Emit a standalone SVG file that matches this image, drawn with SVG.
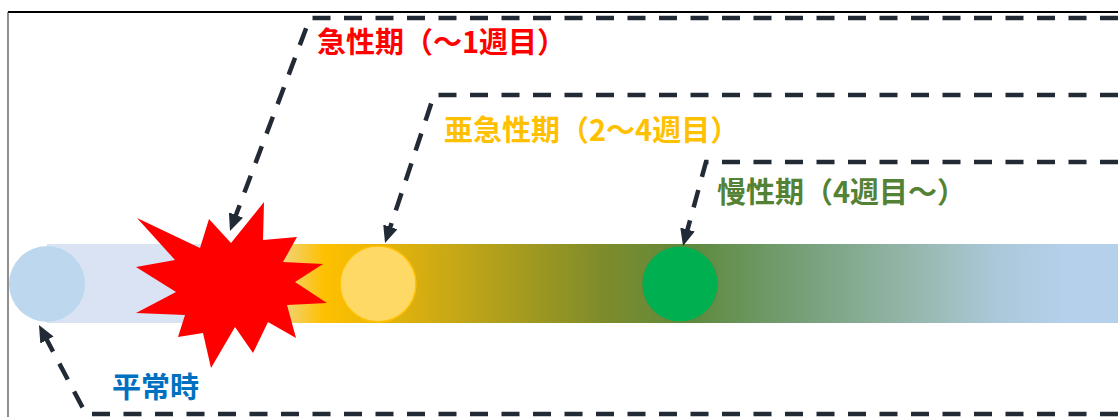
<svg xmlns="http://www.w3.org/2000/svg" width="1118" height="417" viewBox="0 0 1118 417">
<defs>
<style>
.lbl{font-family:"Noto Sans CJK JP","Noto Sans",sans-serif;font-weight:bold;font-size:29px}
.conn{fill:none;stroke:#222a35;stroke-width:4.5;stroke-dasharray:18 13.5}
</style>
<marker id="ah" markerUnits="userSpaceOnUse" markerWidth="17" markerHeight="15" viewBox="0 0 17 15" refX="5" refY="7.5" orient="auto">
<path d="M0,0 L17,7.5 L0,15 Z" fill="#222a35"/>
</marker>
<linearGradient id="bar" gradientUnits="userSpaceOnUse" x1="0" y1="0" x2="1118" y2="0">
<stop offset="0.22" stop-color="#dae3f3"/>
<stop offset="0.238" stop-color="#e9dcae"/>
<stop offset="0.29" stop-color="#ffc000"/>
<stop offset="0.39" stop-color="#cfab13"/>
<stop offset="0.54" stop-color="#7d8b2b"/>
<stop offset="0.62" stop-color="#5e8a3e"/>
<stop offset="0.72" stop-color="#77a07a"/>
<stop offset="0.81" stop-color="#93b5a8"/>
<stop offset="0.89" stop-color="#aac8d8"/>
<stop offset="0.95" stop-color="#b4d0ea"/>
</linearGradient>
</defs>
<rect width="1118" height="417" fill="#ffffff"/>
<g id="frame">
<line x1="8" y1="12" x2="1118" y2="12" stroke="#000" stroke-width="2"/>
<line x1="8" y1="12" x2="8" y2="417" stroke="#444" stroke-width="1.2"/>
</g>
<g id="timeline">
<rect x="47" y="244" width="1075" height="79" fill="url(#bar)"/>
</g>
<g id="normal">
<circle cx="47" cy="284" r="38" fill="#bdd7ee"/>
<text class="lbl" x="112" y="398" fill="#0070c0">平常時</text>
</g>
<g id="acute">
<polygon fill="#ff0000" points="137,218 200,248 209,219 231,243 264,202 263,240 297,237 283,262 323,264 295,282 327,303 287,305 296,338 268,322 253,353 235,327 211,368 203,333 178,337 185,315 136,313 176,292 136,267 175,260"/>
<text class="lbl" x="317" y="53" fill="#ff0000">急性期（〜1週目）</text>
</g>
<g id="subacute">
<circle cx="378" cy="284" r="38" fill="#ffd966" stroke="#ffc000" stroke-width="1.5"/>
<text class="lbl" x="444" y="141" fill="#ffc000">亜急性期（2〜4週目）</text>
</g>
<g id="chronic">
<circle cx="680" cy="284" r="38" fill="#00b050" stroke="#5e8a3e" stroke-width="1"/>
<text class="lbl" x="717" y="203" fill="#548235">慢性期（4週目〜）</text>
</g>
<g id="connectors">
<path class="conn" d="M1118,18 L310,18 L234.2,219.7" marker-end="url(#ah)"/>
<path class="conn" d="M1118,95 L434,95 L388.8,231.6" marker-end="url(#ah)"/>
<path class="conn" d="M1118,162 L706,162 L686.2,234.4" marker-end="url(#ah)"/>
<path class="conn" d="M1118,414 L86,414 L44.6,335.6" marker-end="url(#ah)"/>
</g>
</svg>
